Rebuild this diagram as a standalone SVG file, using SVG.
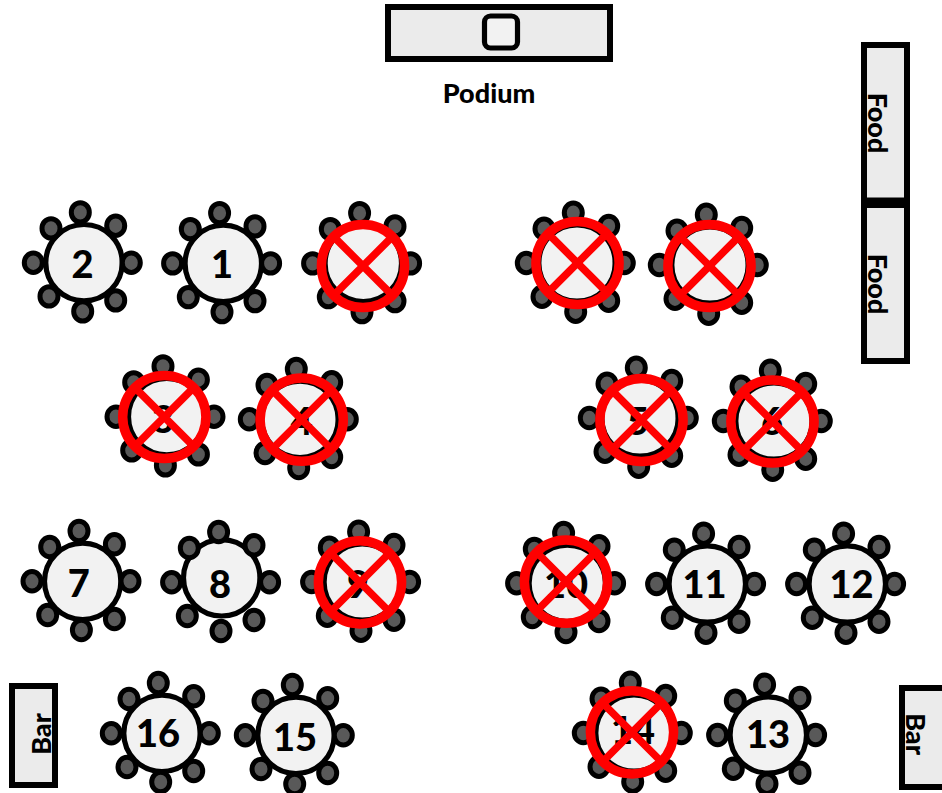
<svg xmlns="http://www.w3.org/2000/svg" xmlns:xlink="http://www.w3.org/1999/xlink" width="942" height="793" viewBox="0 0 942 793">
<style>
.box{fill:#ebebeb;stroke:#000;stroke-width:6}
.top{fill:#f2f2f2;stroke:#000;stroke-width:5.2}
.chair{fill:#595959;stroke:#000;stroke-width:5}
.ring{fill:none;stroke:#f00;stroke-width:9.5}
.bar{stroke:#f00;stroke-width:7.5;fill:none}
text{font-family:"Lato","Liberation Sans",sans-serif;font-weight:900;fill:#000;text-anchor:middle}
.num{font-size:38px}
.lbl{font-size:27px}
</style>
<defs>
<circle id="top" class="top" r="38.2"/>
<g id="chairs">
<ellipse class="chair" cx="-3.7" cy="-50.3" rx="9" ry="9.7"/>
<ellipse class="chair" cx="31.7" cy="-37" rx="9" ry="9.7"/>
<ellipse class="chair" cx="47.3" cy="0" rx="9" ry="9.7"/>
<ellipse class="chair" cx="31.7" cy="37.7" rx="9" ry="9.7"/>
<ellipse class="chair" cx="-1.3" cy="48.7" rx="9" ry="9.7"/>
<ellipse class="chair" cx="-35" cy="33.7" rx="9" ry="9.7"/>
<ellipse class="chair" cx="-50.7" cy="0" rx="9" ry="9.7"/>
<ellipse class="chair" cx="-33" cy="-34.3" rx="9" ry="9.7"/>
</g>
<g id="cross">
<circle class="ring" r="41.6"/>
<path class="bar" d="M-29.5-29.5L29.5 29.5M29.5-29.5L-29.5 29.5"/>
</g>
</defs>

<g id="podium">
<rect class="box" x="388" y="7" width="222" height="52"/>
<rect class="top" x="484.5" y="16" width="33" height="32" rx="6"/>
<text class="lbl" x="489" y="103">Podium</text>
</g>
<g id="food-1">
<rect class="box" x="864" y="45" width="43" height="155.500"/>
<text class="lbl" transform="translate(868 123) rotate(90)">Food</text>
</g>
<g id="food-2">
<rect class="box" x="864" y="205" width="43" height="156"/>
<text class="lbl" transform="translate(868 284) rotate(90)">Food</text>
</g>
<g id="bar-left">
<rect class="box" x="12" y="686" width="43" height="99"/>
<text class="lbl" transform="translate(51 734) rotate(-90)">Bar</text>
</g>
<g id="bar-right">
<rect class="box" x="902" y="688" width="44" height="99"/>
<text class="lbl" transform="translate(906 734) rotate(90)">Bar</text>
</g>

<g id="table-2"><use href="#top" x="84" y="262.7"/><use href="#chairs" x="84" y="262.7"/><text class="num" x="82.5" y="278">2</text></g>
<g id="table-1"><use href="#top" x="223.3" y="263.4"/><use href="#chairs" x="223.3" y="263.4"/><text class="num" x="222" y="278">1</text></g>
<g id="table-r1c3"><use href="#top" x="363.3" y="263.4"/><use href="#chairs" x="363.3" y="263.4"/><use href="#cross" x="363" y="266"/></g>
<g id="table-r1c4"><use href="#top" x="577" y="263"/><use href="#chairs" x="577" y="263"/><use href="#cross" x="577.5" y="263"/></g>
<g id="table-r1c5"><use href="#top" x="710" y="265"/><use href="#chairs" x="710" y="265"/><use href="#cross" x="709.5" y="266"/></g>

<g id="table-3"><use href="#top" x="166.7" y="416.7"/><use href="#chairs" x="166.7" y="416.7"/><text class="num" x="163" y="433">3</text><use href="#cross" x="164.3" y="417"/></g>
<g id="table-4"><use href="#top" x="300" y="419.3"/><use href="#chairs" x="300" y="419.3"/><text class="num" x="301.7" y="435">4</text><use href="#cross" x="301.7" y="419.7"/></g>
<g id="table-5"><use href="#top" x="640" y="418"/><use href="#chairs" x="640" y="418"/><text class="num" x="638" y="435">5</text><use href="#cross" x="641.5" y="420"/></g>
<g id="table-6"><use href="#top" x="774" y="421"/><use href="#chairs" x="774" y="421"/><text class="num" x="772" y="435">6</text><use href="#cross" x="772.5" y="421.5"/></g>

<g id="table-7"><use href="#top" x="82.7" y="581.3"/><use href="#chairs" x="82.7" y="581.3"/><text class="num" x="78.700" y="597">7</text></g>
<g id="table-8"><use href="#top" x="221.700" y="577.800"/><use href="#chairs" x="222.3" y="582.3"/><text class="num" x="220" y="598">8</text></g>
<g id="table-9"><use href="#top" x="362.3" y="582"/><use href="#chairs" x="362.3" y="582"/><text class="num" x="358" y="598">9</text><use href="#cross" x="360" y="582.3"/></g>
<g id="table-10"><use href="#top" x="567.3" y="583.3"/><use href="#chairs" x="567.3" y="583.3"/><text class="num" x="566" y="598">10</text><use href="#cross" x="566" y="581.7"/></g>
<g id="table-11"><use href="#top" x="707.3" y="584"/><use href="#chairs" x="707.3" y="584"/><text class="num" x="704.500" y="598">11</text></g>
<g id="table-12"><use href="#top" x="847.3" y="584"/><use href="#chairs" x="847.3" y="584"/><text class="num" x="851.5" y="598">12</text></g>

<g id="table-16"><use href="#top" x="162" y="733.3"/><use href="#chairs" x="162" y="733.3"/><text class="num" x="158" y="747">16</text></g>
<g id="table-15"><use href="#top" x="296" y="735.300"/><use href="#chairs" x="296" y="735.300"/><text class="num" x="295" y="751">15</text></g>
<g id="table-14"><use href="#top" x="634" y="733"/><use href="#chairs" x="634" y="733"/><text class="num" x="633" y="744">14</text><use href="#cross" x="632" y="732.3"/></g>
<g id="table-13"><use href="#top" x="768.3" y="735"/><use href="#chairs" x="768.3" y="735"/><text class="num" x="768" y="748">13</text></g>
</svg>
